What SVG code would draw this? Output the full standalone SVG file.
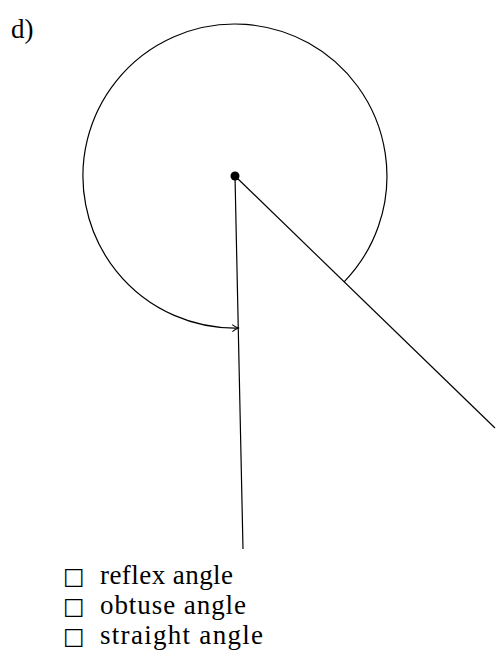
<svg xmlns="http://www.w3.org/2000/svg" width="497" height="672" viewBox="0 0 497 672">
<style>
.t{font-family:"Liberation Serif","DejaVu Serif",serif;font-size:27px;fill:#000}
.bx{font-family:"DejaVu Sans",sans-serif;font-size:23px}
.ln{stroke:#000;stroke-width:1.2;fill:none}
</style>
<defs>
<marker id="arr" markerWidth="10" markerHeight="10" refX="7" refY="5" orient="auto" markerUnits="userSpaceOnUse">
<path d="M1,1.5 Q4,4 7,5 Q4,6 1,8.5" fill="none" stroke="#000" stroke-width="1"/>
</marker>
</defs>
<rect width="497" height="672" fill="#fff"/>
<text class="t" x="11" y="38">d)</text>
<g id="connectors">
<path class="ln" d="M344.1,281.8 A152,152 0 1 0 238.3,328" marker-end="url(#arr)"/>
<line class="ln" x1="235" y1="176" x2="243" y2="549"/>
<line class="ln" x1="235" y1="176" x2="495" y2="428"/>
</g>
<g id="vertex"><circle cx="235" cy="176" r="4.5" fill="#000"/></g>
<g id="options">
<text class="t" x="63" y="584"><tspan class="bx">□</tspan> <tspan x="100" textLength="133" lengthAdjust="spacing">reflex angle</tspan></text>
<text class="t" x="63" y="614"><tspan class="bx">□</tspan> <tspan x="100" textLength="146" lengthAdjust="spacing">obtuse angle</tspan></text>
<text class="t" x="63" y="644"><tspan class="bx">□</tspan> <tspan x="100" textLength="163" lengthAdjust="spacing">straight angle</tspan></text>
</g>
</svg>
